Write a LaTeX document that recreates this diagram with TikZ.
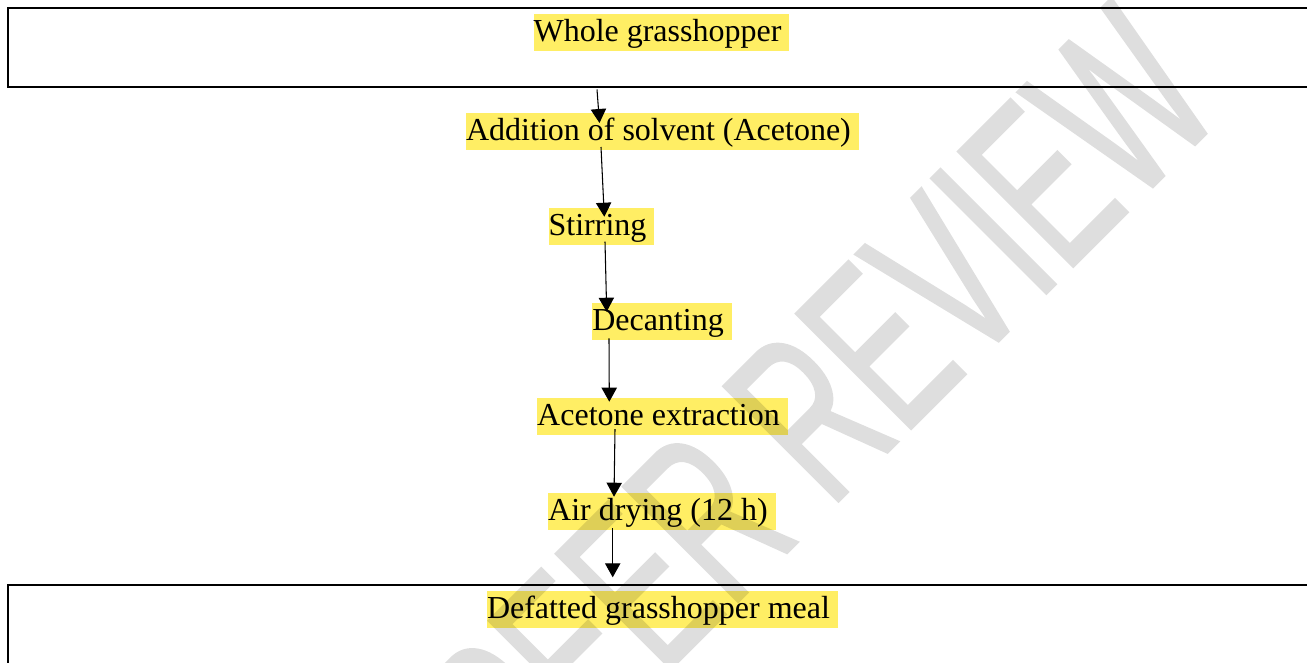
\documentclass[tikz,border=0pt]{standalone}
\usepackage{fontspec}
\setmainfont{Liberation Serif}
\newfontfamily\wmfont[FakeStretch=0.6,FakeBold=1]{Liberation Sans}
\usetikzlibrary{arrows.meta}
\definecolor{hl}{RGB}{255,238,100}
\newcommand{\trail}{\kern0.25em}
\begin{document}
\begin{tikzpicture}[x=0.75pt,y=-0.75pt,
  stepbox/.style={fill=hl, inner sep=0pt, text height=20.5pt, text depth=7pt,
    font=\fontsize{24pt}{28pt}\selectfont},
  arr/.style={-{Triangle[length=10.5pt,width=11.5pt]}, line width=0.8pt},
  framebox/.style={draw, line width=1.5pt, inner sep=0pt},
  wm/.style={text=black, inner sep=0pt,
    font=\wmfont\fontsize{177.75pt}{180pt}\selectfont}]
\useasboundingbox (0,0) rectangle (1307,662);
\begin{scope}
\clip (0,0) rectangle (1307,662);
% frames
\node[framebox, minimum width=991.7pt, minimum height=59.7pt] (topbox) at (668.85,47.5) {};
\node[framebox, minimum width=991.7pt, minimum height=86.25pt] (botbox) at (668.85,642.5) {};
% steps
\node[stepbox] (whole) at (661.5,32.5) {Whole grasshopper\trail};
\node[stepbox] (add) at (662.5,131.5) {Addition of solvent (Acetone)\trail};
\node[stepbox] (stir) at (601.5,226.5) {Stirring\trail};
\node[stepbox] (dec) at (662,321.5) {Decanting\trail};
\node[stepbox] (acet) at (662.5,416.5) {Acetone extraction\trail};
\node[stepbox] (air) at (662,511.5) {Air drying (12 h)\trail};
\node[stepbox] (def) at (662.5,609.5) {Defatted grasshopper meal\trail};
% connector ends
\coordinate (s1) at (597,89.5);   \coordinate (t1) at (599.5,123);
\coordinate (s2) at (601,147);    \coordinate (t2) at (604.3,216.7);
\coordinate (s3) at (605,241.7);  \coordinate (t3) at (606.7,311.7);
\coordinate (s4) at (609,338.3);  \coordinate (t4) at (609.3,401.7);
\coordinate (s5) at (615,429);    \coordinate (t5) at (614,496.7);
\coordinate (s6) at (612.7,528.3);\coordinate (t6) at (612.7,577.3);
\draw[arr] (s1) -- (t1);
\draw[arr] (s2) -- (t2);
\draw[arr] (s3) -- (t3);
\draw[arr] (s4) -- (t4);
\draw[arr] (s5) -- (t5);
\draw[arr] (s6) -- (t6);
% watermark
\begin{scope}[transparency group, opacity=0.13]
\node[wm, anchor=base west, rotate=45] (wmark) at (528.5,811.5) {PEER REVIEW};
\end{scope}
\end{scope}
\end{tikzpicture}
\end{document}
